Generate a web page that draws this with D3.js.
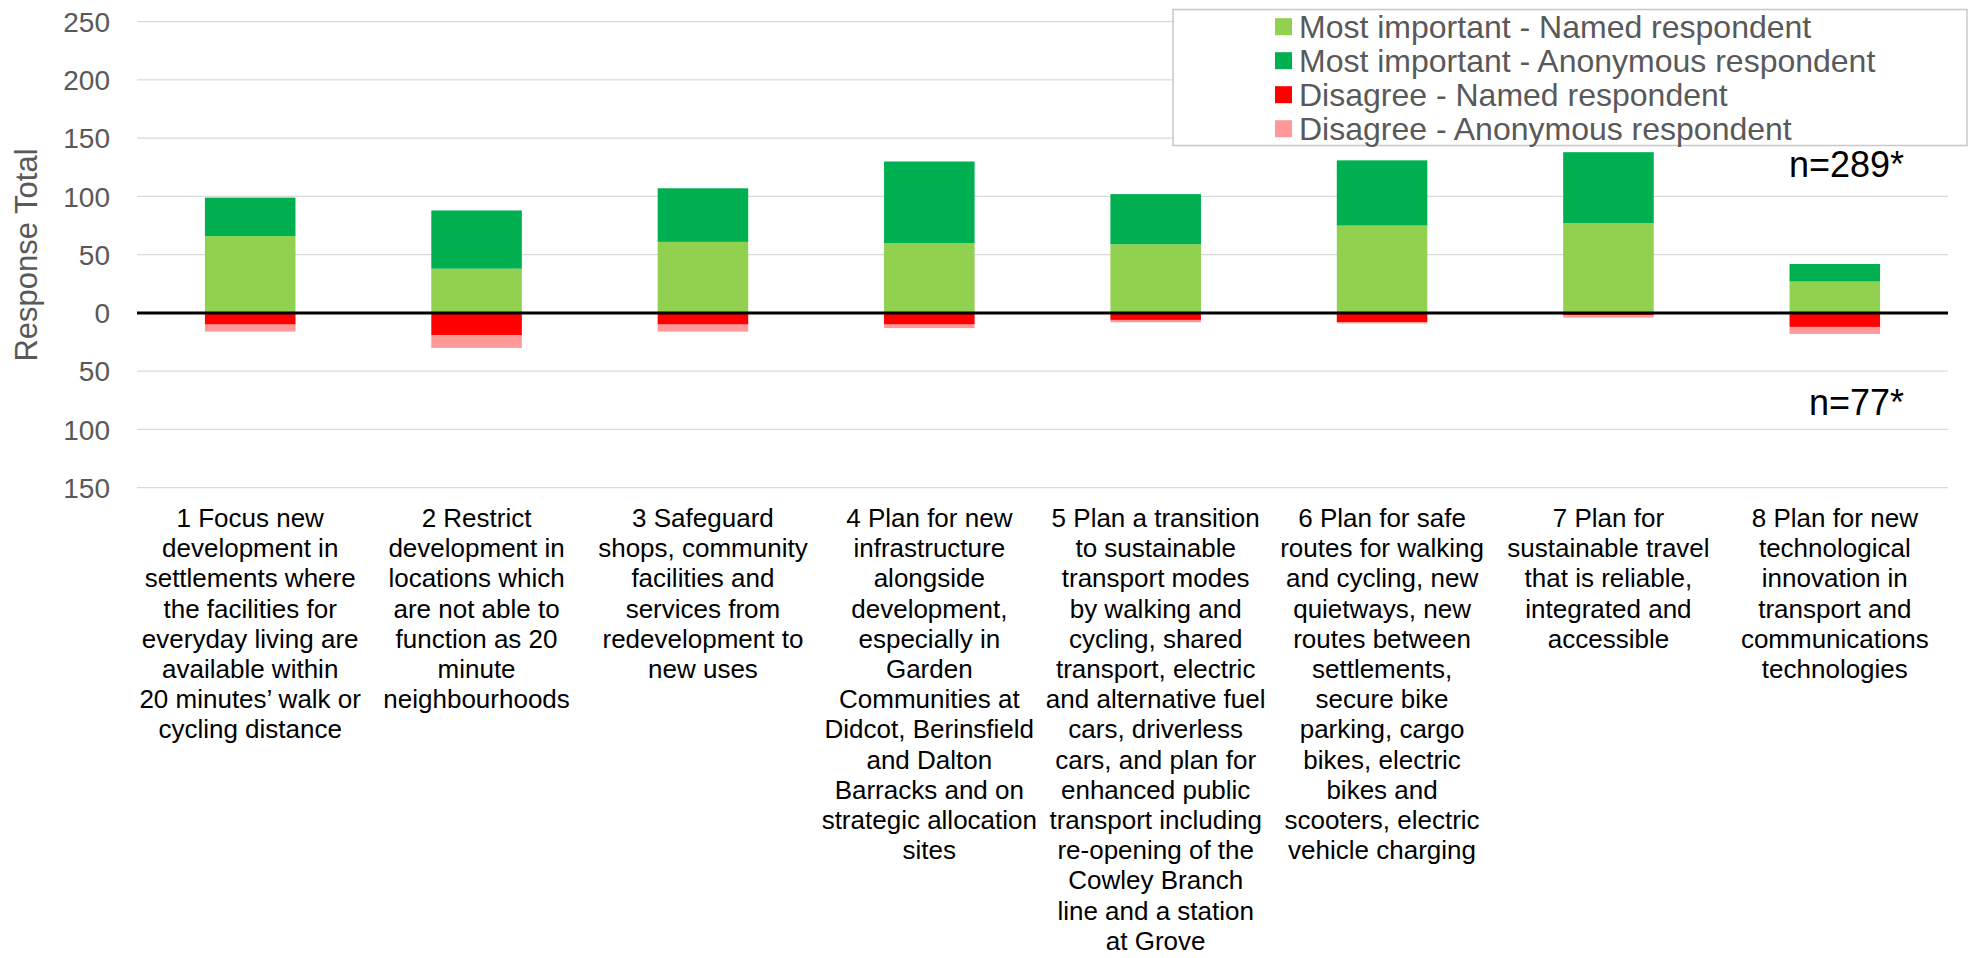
<!DOCTYPE html>
<html>
<head>
<meta charset="utf-8">
<script src="https://d3js.org/d3.v7.min.js"></script>
<style>
  body { margin: 0; background: #fff; }
  text { font-family: "Liberation Sans", Arial, sans-serif; }
  .grid line { stroke: #d9d9d9; stroke-width: 1.3px; }
  .tick-label { fill: #595959; font-size: 28px; }
  .cat-label { fill: #000; font-size: 26px; }
  .legend text { fill: #595959; font-size: 32px; }
</style>
</head>
<body>
<svg width="1968" height="958"></svg>
<script>
// categories, one array of wrapped lines per statement
var categories = [
  ["1 Focus new", "development in", "settlements where", "the facilities for", "everyday living are", "available within", "20 minutes\u2019 walk or", "cycling distance"],
  ["2 Restrict", "development in", "locations which", "are not able to", "function as 20", "minute", "neighbourhoods"],
  ["3 Safeguard", "shops, community", "facilities and", "services from", "redevelopment to", "new uses"],
  ["4 Plan for new", "infrastructure", "alongside", "development,", "especially in", "Garden", "Communities at", "Didcot, Berinsfield", "and Dalton", "Barracks and on", "strategic allocation", "sites"],
  ["5 Plan a transition", "to sustainable", "transport modes", "by walking and", "cycling, shared", "transport, electric", "and alternative fuel", "cars, driverless", "cars, and plan for", "enhanced public", "transport including", "re-opening of the", "Cowley Branch", "line and a station", "at Grove"],
  ["6 Plan for safe", "routes for walking", "and cycling, new", "quietways, new", "routes between", "settlements,", "secure bike", "parking, cargo", "bikes, electric", "bikes and", "scooters, electric", "vehicle charging"],
  ["7 Plan for", "sustainable travel", "that is reliable,", "integrated and", "accessible"],
  ["8 Plan for new", "technological", "innovation in", "transport and", "communications", "technologies"]
];

var mostNamed     = [66, 38, 61, 60, 59, 75, 77, 27];
var mostAnonymous = [33, 50, 46, 70, 43, 56, 61, 15];
var disNamed      = [10, 19, 10, 10, 6, 8, 2, 12];
var disAnonymous  = [6, 11, 6, 3, 2, 1, 2, 6];

var seriesNames = ["Most important - Named respondent", "Most important - Anonymous respondent",
                   "Disagree - Named respondent", "Disagree - Anonymous respondent"];
var seriesColors = ["#92d050", "#00b050", "#ff0000", "#ff9999"];

var yTicks = [-150, -100, -50, 0, 50, 100, 150, 200, 250];
var notes = [{text: "n=289*", value: 117}, {text: "n=77*", value: -88}];

var svg = d3.select("svg");
var left = 137, right = 1948;

var x = d3.scaleBand()
    .domain(d3.range(categories.length))
    .range([left, right])
    .paddingInner(0.6)
    .paddingOuter(0.3);

var y = d3.scaleLinear()
    .domain([-150, 250])
    .range([487.7, 21.7]);

// gridlines
svg.append("g").attr("class", "grid")
  .selectAll("line")
  .data(yTicks.filter(function(d) { return d !== 0; }))
  .enter().append("line")
    .attr("x1", left).attr("x2", right)
    .attr("y1", function(d) { return y(d); })
    .attr("y2", function(d) { return y(d); });

// y tick labels (absolute values)
svg.append("g")
  .selectAll("text")
  .data(yTicks)
  .enter().append("text")
    .attr("class", "tick-label")
    .attr("x", 110)
    .attr("y", function(d) { return y(d); })
    .attr("dy", "0.36em")
    .attr("text-anchor", "end")
    .text(function(d) { return Math.abs(d); });

svg.append("text")
    .attr("transform", "translate(37," + 255 + ") rotate(-90)")
    .attr("text-anchor", "middle")
    .style("font-size", "31px")
    .style("fill", "#595959")
    .text("Response Total");

// stacked segments: positives up from zero, negatives down
var segs = [];
categories.forEach(function(c, i) {
  segs.push({i: i, y0: 0, y1: mostNamed[i], s: 0});
  segs.push({i: i, y0: mostNamed[i], y1: mostNamed[i] + mostAnonymous[i], s: 1});
  segs.push({i: i, y0: 0, y1: -disNamed[i], s: 2});
  segs.push({i: i, y0: -disNamed[i], y1: -disNamed[i] - disAnonymous[i], s: 3});
});

svg.append("g")
  .selectAll("rect")
  .data(segs)
  .enter().append("rect")
    .attr("x", function(d) { return x(d.i); })
    .attr("width", x.bandwidth())
    .attr("y", function(d) { return y(Math.max(d.y0, d.y1)); })
    .attr("height", function(d) { return Math.abs(y(d.y0) - y(d.y1)); })
    .attr("fill", function(d) { return seriesColors[d.s]; });

// zero line
svg.append("line")
    .attr("x1", left).attr("x2", right)
    .attr("y1", y(0)).attr("y2", y(0))
    .attr("stroke", "#000")
    .attr("stroke-width", 3);

// category labels
var lab = svg.append("g")
  .selectAll("text")
  .data(categories)
  .enter().append("text")
    .attr("class", "cat-label")
    .attr("text-anchor", "middle");

lab.selectAll("tspan")
  .data(function(d, i) { return d.map(function(t) { return {t: t, i: i}; }); })
  .enter().append("tspan")
    .attr("x", function(d) { return x(d.i) + x.bandwidth() / 2; })
    .attr("y", function(d, j) { return 527 + j * 30.2; })
    .text(function(d) { return d.t; });

// n notes
svg.append("g")
  .selectAll("text")
  .data(notes)
  .enter().append("text")
    .attr("x", 1904)
    .attr("y", function(d) { return y(d.value); })
    .attr("text-anchor", "end")
    .style("font-size", "36px")
    .style("fill", "#000")
    .text(function(d) { return d.text; });

// legend
var legend = svg.append("g").attr("class", "legend");
legend.append("rect")
    .attr("x", 1173).attr("y", 9.5)
    .attr("width", 794).attr("height", 136)
    .attr("fill", "#fff")
    .attr("stroke", "#c8c8c8")
    .attr("stroke-width", 1.5);

var item = legend.selectAll("g.item")
  .data(seriesNames)
  .enter().append("g")
    .attr("class", "item")
    .attr("transform", function(d, i) { return "translate(1275," + (26.7 + i * 34) + ")"; });

item.append("rect")
    .attr("x", 0).attr("y", -8.5)
    .attr("width", 17).attr("height", 17)
    .attr("fill", function(d, i) { return seriesColors[i]; });

item.append("text")
    .attr("x", 24)
    .attr("dy", "0.36em")
    .text(function(d) { return d; });
</script>
</body>
</html>
